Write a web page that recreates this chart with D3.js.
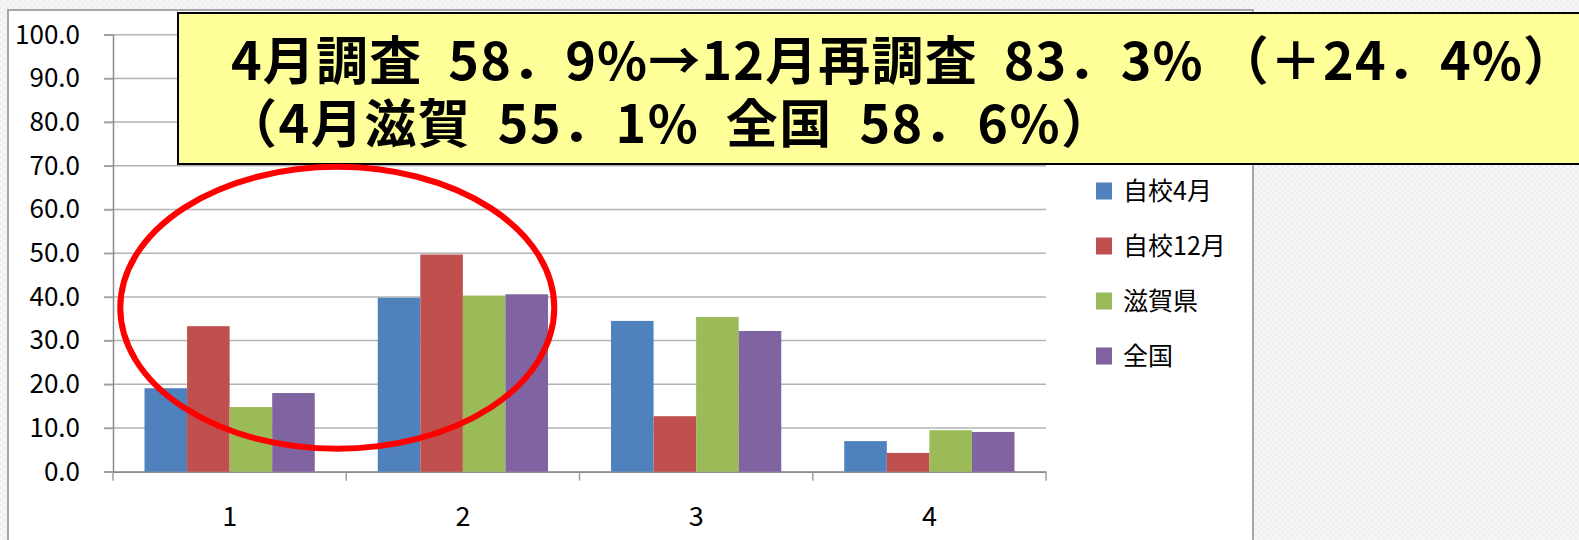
<!DOCTYPE html>
<html>
<head>
<meta charset="utf-8">
<script src="https://cdn.jsdelivr.net/npm/d3@7"></script>
<style>
  body { margin: 0; background: #f6f6f6; }
  svg { display: block; font-family: "Noto Sans CJK JP", "Noto Sans", sans-serif; }
</style>
</head>
<body>
<svg></svg>
<script>
const width = 1579,
      height = 540

// data
const categories = ["1", "2", "3", "4"]
const seriesNames = ["自校4月", "自校12月", "滋賀県", "全国"]
const school4 = [19.1, 39.8, 34.5, 7.0]
const school12 = [33.3, 49.7, 12.7, 4.3]
const shiga = [14.8, 40.3, 35.4, 9.5]
const national = [18.0, 40.6, 32.2, 9.1]
const yTicks = [0, 10, 20, 30, 40, 50, 60, 70, 80, 90, 100]
const titleLines = ["4月調査  58．9%→12月再調査  83．3% （＋24．4%）",
                    "（4月滋賀  55．1%  全国  58．6%）"]

const colors = ["#4f81bd", "#c0504d", "#9bbb59", "#8064a2"]
const seriesValues = [school4, school12, shiga, national]

const rows = categories.map((c, i) => ({
  cat: c,
  values: seriesNames.map((s, j) => ({key: s, value: seriesValues[j][i]}))
}))

const svg = d3.select("svg")
  .attr("width", width)
  .attr("height", height)

// textured page background
const defs = svg.append("defs")
const pat = defs.append("pattern")
  .attr("id", "tex")
  .attr("width", 6).attr("height", 6)
  .attr("patternUnits", "userSpaceOnUse")
pat.append("rect").attr("width", 6).attr("height", 6).attr("fill", "#f7f7f7")
pat.append("rect").attr("x", 0).attr("y", 0).attr("width", 3).attr("height", 3).attr("fill", "#efefef")
pat.append("rect").attr("x", 3).attr("y", 3).attr("width", 3).attr("height", 3).attr("fill", "#efefef")

svg.append("rect")
  .attr("width", width).attr("height", height)
  .attr("fill", "url(#tex)")

// chart area
svg.append("rect")
  .attr("x", 8).attr("y", 10)
  .attr("width", 1245).attr("height", 540)
  .attr("fill", "#fff")
  .attr("stroke", "#a6a6a6")
  .attr("stroke-width", 2)

const x0 = d3.scaleBand()
  .domain(categories)
  .range([113, 1046])

const x1 = d3.scaleBand()
  .domain(seriesNames)
  .range([0, x0.bandwidth()])
  .paddingOuter(0.74)

const y = d3.scaleLinear()
  .domain([0, 100])
  .range([471.7, 34.7])

// gridlines
svg.append("g")
  .selectAll("line")
  .data(yTicks)
  .join("line")
    .attr("x1", 104)
    .attr("x2", 1046)
    .attr("y1", d => y(d))
    .attr("y2", d => y(d))
    .attr("stroke", "#b3b3b3")
    .attr("stroke-width", 1.5)

// y axis
const yAxis = svg.append("g")
  .attr("transform", "translate(113,0)")
  .call(d3.axisLeft(y).tickValues(yTicks).tickFormat(d3.format(".1f")).tickSize(9).tickPadding(24))
yAxis.select(".domain").attr("stroke", "#8c8c8c").attr("stroke-width", 1.5)
yAxis.selectAll(".tick line").attr("stroke", "#a0a0a0").attr("stroke-width", 1.5)
yAxis.selectAll("text")
  .attr("font-size", 26)
  .attr("fill", "#000")
  .attr("font-family", "\"Noto Sans CJK JP\", sans-serif")

// x axis
const xAxis = svg.append("g")
  .attr("transform", `translate(0,${y(0)})`)
  .call(d3.axisBottom(x0).tickSize(0).tickPadding(35))
xAxis.select(".domain").attr("stroke", "#8c8c8c").attr("stroke-width", 1.5)
xAxis.selectAll("text")
  .attr("font-size", 27)
  .attr("fill", "#000")
  .attr("font-family", "\"Noto Sans CJK JP\", sans-serif")

// band boundary ticks
xAxis.append("g")
  .selectAll("line")
  .data(categories.map(c => x0(c)).concat([x0.range()[1]]))
  .join("line")
    .attr("x1", d => d).attr("x2", d => d)
    .attr("y1", 0).attr("y2", 9)
    .attr("stroke", "#a0a0a0")
    .attr("stroke-width", 1.5)

// bars
svg.append("g")
  .selectAll("g")
  .data(rows)
  .join("g")
    .attr("transform", d => `translate(${x0(d.cat)},0)`)
  .selectAll("rect")
  .data(d => d.values)
  .join("rect")
    .attr("x", d => x1(d.key))
    .attr("width", x1.bandwidth())
    .attr("y", d => y(d.value))
    .attr("height", d => y(0) - y(d.value))
    .attr("fill", (d, i) => colors[i])

// legend
const legend = svg.append("g")
  .selectAll("g")
  .data(seriesNames)
  .join("g")
    .attr("transform", (d, i) => `translate(1096,${191 + i * 55})`)

legend.append("rect")
  .attr("y", -8.5)
  .attr("width", 16).attr("height", 17)
  .attr("fill", (d, i) => colors[i])

legend.append("text")
  .attr("x", 27)
  .attr("dy", "0.36em")
  .attr("font-size", 25)
  .text(d => d)

// yellow callout
svg.append("rect")
  .attr("x", 178).attr("y", 13)
  .attr("width", 1440).attr("height", 151)
  .attr("fill", "#ffff99")
  .attr("stroke", "#000")
  .attr("stroke-width", 2)

svg.append("g")
  .selectAll("text")
  .data(titleLines)
  .join("text")
    .style("white-space", "pre")
    .attr("x", (d, i) => i === 0 ? 231 : 225)
    .attr("y", (d, i) => i === 0 ? 80 : 143)
    .attr("font-size", 52)
    .attr("font-weight", 700)
    .attr("textLength", (d, i) => i === 0 ? 1344 : 888)
    .attr("lengthAdjust", "spacing")
    .text(d => d)

// red circle around categories 1 and 2
svg.append("ellipse")
  .attr("cx", x0("2") - 9)
  .attr("cy", y(37.5))
  .attr("rx", 217)
  .attr("ry", 141)
  .attr("fill", "none")
  .attr("stroke", "#ff0000")
  .attr("stroke-width", 6)
</script>
</body>
</html>
